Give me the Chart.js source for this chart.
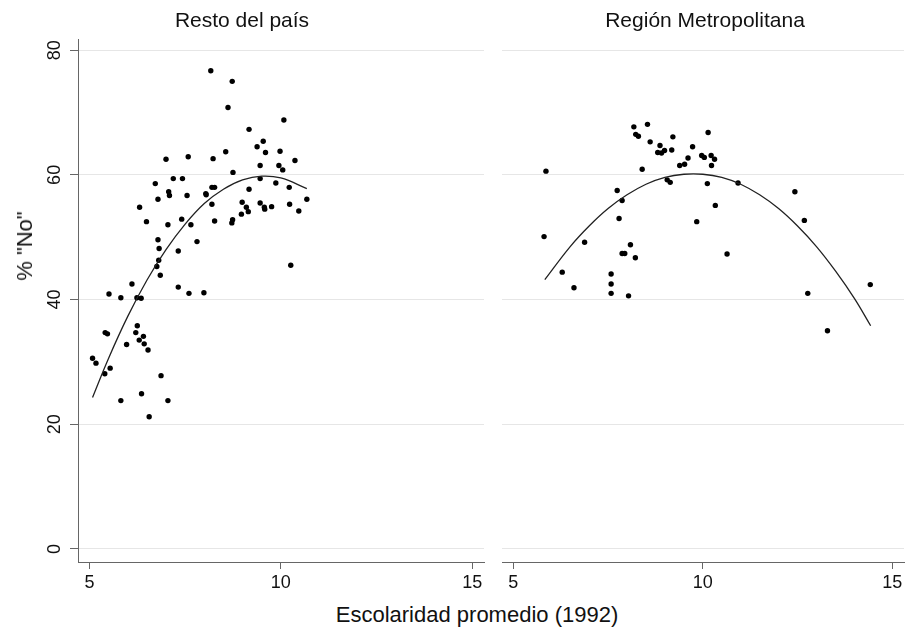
<!DOCTYPE html>
<html>
<head>
<meta charset="utf-8">
<script src="https://cdn.jsdelivr.net/npm/chart.js@4.4.1/dist/chart.umd.min.js"></script>
<style>
  body { margin: 0; background: #fff; width: 908px; height: 627px; position: relative; overflow: hidden;
         font-family: "Liberation Sans", Arial, sans-serif; color: #111; }
  canvas { position: absolute; top: 0; }
  #left { left: 0; }
  #right { left: 492px; }
  .ytitle { position: absolute; left: 25px; top: 246px; transform: translate(-50%, -50%) rotate(-90deg);
            font-size: 22px; white-space: nowrap; }
  .xtitle { position: absolute; left: 477px; top: 615px; transform: translate(-50%, -50%);
            font-size: 22px; white-space: nowrap; }
</style>
</head>
<body>
<canvas id="left" width="492" height="600"></canvas>
<canvas id="right" width="416" height="600"></canvas>
<div class="ytitle">% "No"</div>
<div class="xtitle">Escolaridad promedio (1992)</div>
<script>
/* panel titles and axis ticks */
const panelTitles = ["Resto del país", "Región Metropolitana"];
const xTicks = [5, 10, 15];
const yTicks = [0, 20, 40, 60, 80];

/* Resto del país: comunas (escolaridad, % "No") */
const restoX = [8.17, 8.73, 8.62, 10.08, 9.17, 9.54, 9.38, 9.60, 9.98, 8.56, 7.00, 7.58, 8.23, 9.46, 9.95,
  10.05, 8.75, 9.46, 6.72, 7.19, 7.43, 9.87, 8.20, 8.27, 7.07, 7.09, 7.55, 8.04, 8.05, 9.17, 6.79, 10.22,
  8.20, 8.99, 9.10, 9.46, 9.57, 9.58, 9.76, 10.23, 9.15, 8.97, 6.31, 6.49, 7.41, 7.05, 7.65, 8.27, 8.74,
  8.72, 6.79, 7.81, 6.82, 7.32, 6.81, 6.76, 6.85, 6.11, 7.32, 5.51, 5.82, 6.24, 6.35, 7.60, 7.99, 10.26,
  6.25, 5.41, 5.47, 6.21, 6.41, 6.30, 6.43, 5.97, 6.53, 5.08, 5.17, 5.54, 5.40, 6.87, 6.36, 5.82, 7.05,
  6.56, 10.37, 10.47, 10.68];
const restoY = [76.7, 75.0, 70.8, 68.8, 67.3, 65.4, 64.5, 63.6, 63.8, 63.7, 62.5, 62.9, 62.6, 61.5, 61.5,
  60.8, 60.4, 59.4, 58.6, 59.4, 59.4, 58.7, 58.0, 58.0, 57.3, 56.7, 56.7, 57.0, 56.8, 57.7, 56.1, 58.0,
  55.3, 55.6, 54.8, 55.5, 54.8, 54.5, 54.9, 55.3, 54.1, 53.7, 54.8, 52.5, 52.9, 52.0, 52.0, 52.6, 52.8,
  52.3, 49.6, 49.3, 48.2, 47.8, 46.3, 45.3, 43.9, 42.5, 42.0, 40.9, 40.3, 40.3, 40.2, 41.0, 41.1, 45.5,
  35.8, 34.7, 34.5, 34.7, 34.1, 33.5, 32.9, 32.8, 31.9, 30.6, 29.8, 29.0, 28.1, 27.8, 24.9, 23.8, 23.8,
  21.2, 62.3, 54.2, 56.1];

/* Región Metropolitana */
const rmX = [8.18, 8.54, 8.23, 8.30, 8.61, 8.87, 9.21, 8.81, 8.91, 8.99, 9.18, 9.73, 10.14, 9.61, 9.39,
  9.52, 9.97, 10.04, 8.40, 5.86, 9.06, 9.14, 10.12, 7.74, 7.87, 7.79, 9.84, 5.81, 6.88, 8.09, 7.87, 7.94,
  8.22, 6.29, 7.58, 6.60, 7.58, 7.58, 8.04, 10.22, 10.31, 10.23, 10.93, 10.33, 10.64, 12.43, 12.68,
  12.77, 13.29, 14.42];
const rmY = [67.7, 68.1, 66.5, 66.2, 65.3, 64.7, 66.1, 63.6, 63.5, 63.9, 64.0, 64.5, 66.8, 62.7, 61.5,
  61.7, 63.1, 62.8, 60.9, 60.6, 59.2, 58.8, 58.6, 57.5, 55.9, 53.0, 52.5, 50.1, 49.2, 48.8, 47.4, 47.4,
  46.7, 44.4, 44.1, 41.9, 42.5, 41.0, 40.6, 63.1, 62.5, 61.5, 58.7, 55.1, 47.3, 57.3, 52.7,
  41.0, 35.0, 42.4];

/* fitted quadratic curves */
const restoFitX = [5.08, 5.5, 6, 6.5, 7, 7.5, 8, 8.5, 9, 9.5, 10, 10.68];
const restoFitY = [24.3, 30.6, 37.3, 43.1, 48.0, 52.1, 55.4, 57.7, 59.2, 59.8, 59.5, 57.8];
const rmFitX = [5.83, 6.5, 7, 7.5, 8, 8.5, 9, 9.5, 10, 10.5, 11, 11.5, 12, 12.5, 13, 13.5, 14, 14.43];
const rmFitY = [43.2, 48.5, 51.8, 54.6, 56.8, 58.5, 59.6, 60.1, 60.1, 59.6, 58.5, 56.8, 54.6, 51.8, 48.5,
  44.6, 40.2, 35.8];

const FONT = "'Liberation Sans', Arial, sans-serif";
const GRID = "#e6e6e6";
const AXIS = "#666";

const toPts = (xs, ys) => xs.map((x, i) => ({x: x, y: ys[i]}));

function panel(canvasId, title, xs, ys, fx, fy, withYAxis) {
  return new Chart(document.getElementById(canvasId), {
    type: "scatter",
    data: {
      datasets: [
        {
          data: toPts(fx, fy),
          showLine: true,
          pointRadius: 0,
          borderColor: "#222",
          borderWidth: 1.3,
          tension: 0.4
        },
        {
          data: toPts(xs, ys),
          pointRadius: 2.7,
          pointBackgroundColor: "#000",
          pointBorderWidth: 0
        }
      ]
    },
    options: {
      responsive: false,
      animation: false,
      devicePixelRatio: 1,
      layout: {padding: {left: withYAxis ? 0 : 10, right: withYAxis ? 8 : 0, top: 0, bottom: 0}},
      plugins: {
        legend: {display: false},
        tooltip: {enabled: false},
        title: {
          display: true,
          text: title,
          color: "#111",
          font: {family: FONT, size: 21, weight: "normal"},
          padding: {top: 9, bottom: 5}
        }
      },
      scales: {
        x: {
          type: "linear",
          min: 4.7,
          max: 15.31,
          afterBuildTicks: s => { s.ticks = xTicks.map(v => ({value: v})); },
          afterFit: s => { s.height = 38; },
          border: {display: true, color: AXIS, width: 1},
          grid: {display: true, drawOnChartArea: false, drawTicks: true, tickLength: 7, tickColor: AXIS},
          ticks: {color: "#111", font: {family: FONT, size: 18}, padding: 3, maxRotation: 0, autoSkip: false}
        },
        y: {
          type: "linear",
          min: -2.09,
          max: 81.76,
          afterBuildTicks: s => { s.ticks = yTicks.map(v => ({value: v})); },
          afterFit: s => { s.width = withYAxis ? 78 : 0; },
          border: {display: withYAxis, color: AXIS, width: 1},
          grid: {color: GRID, lineWidth: 1, drawTicks: withYAxis, tickLength: 8, tickColor: AXIS},
          ticks: {
            display: withYAxis,
            color: "#111",
            font: {family: FONT, size: 18},
            padding: 5,
            minRotation: 90,
            maxRotation: 90,
            crossAlign: "center"
          }
        }
      }
    }
  });
}

panel("left", panelTitles[0], restoX, restoY, restoFitX, restoFitY, true);
panel("right", panelTitles[1], rmX, rmY, rmFitX, rmFitY, false);
</script>
</body>
</html>
